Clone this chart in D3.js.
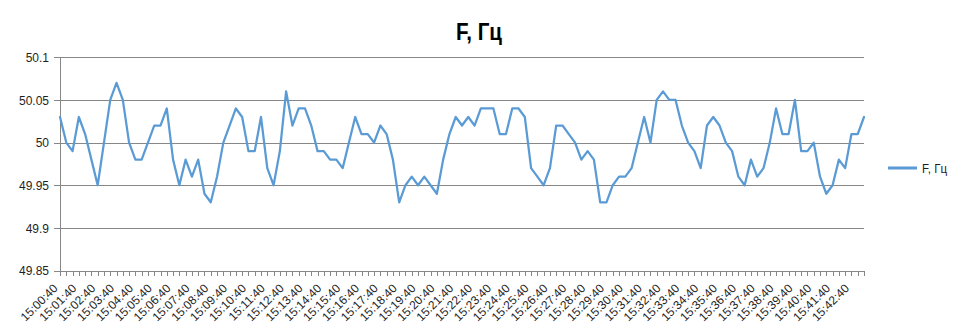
<!DOCTYPE html>
<html><head><meta charset="utf-8">
<script src="https://cdn.jsdelivr.net/npm/d3@7"></script>
<style>
html,body{margin:0;padding:0;background:#fff;}
svg{display:block;}
text{font-family:"Liberation Sans",Arial,sans-serif;}
</style></head>
<body>
<script>
const seriesName = "F, Гц";
const startTime = "15:00:40";
const stepSeconds = 20;
const values = [
50.03,50.00,49.99,50.03,50.01,49.98,49.95,50.00,50.05,50.07,
50.05,50.00,49.98,49.98,50.00,50.02,50.02,50.04,49.98,49.95,
49.98,49.96,49.98,49.94,49.93,49.96,50.00,50.02,50.04,50.03,
49.99,49.99,50.03,49.97,49.95,49.99,50.06,50.02,50.04,50.04,
50.02,49.99,49.99,49.98,49.98,49.97,50.00,50.03,50.01,50.01,
50.00,50.02,50.01,49.98,49.93,49.95,49.96,49.95,49.96,49.95,
49.94,49.98,50.01,50.03,50.02,50.03,50.02,50.04,50.04,50.04,
50.01,50.01,50.04,50.04,50.03,49.97,49.96,49.95,49.97,50.02,
50.02,50.01,50.00,49.98,49.99,49.98,49.93,49.93,49.95,49.96,
49.96,49.97,50.00,50.03,50.00,50.05,50.06,50.05,50.05,50.02,
50.00,49.99,49.97,50.02,50.03,50.02,50.00,49.99,49.96,49.95,
49.98,49.96,49.97,50.00,50.04,50.01,50.01,50.05,49.99,49.99,
50.00,49.96,49.94,49.95,49.98,49.97,50.01,50.01,50.03
];
const yTicks = [49.85, 49.9, 49.95, 50, 50.05, 50.1];
const labelEvery = 3;

// category times (one reading every 20 s)
const p = startTime.split(":").map(Number);
const t0 = p[0]*3600 + p[1]*60 + p[2];
const pad = n => String(n).padStart(2, "0");
const categories = values.map((v, i) => {
  const t = t0 + i*stepSeconds;
  return pad(Math.floor(t/3600)) + ":" + pad(Math.floor(t/60)%60) + ":" + pad(t%60);
});
const data = categories.map((c, i) => ({c, v: values[i], i}));

const W = 959, H = 336;
const L = 60, R = 864, T = 57.3, B = 270.5;

const svg = d3.select("body").append("svg").attr("width", W).attr("height", H);

const x = d3.scalePoint().domain(categories).range([L, R]);
const y = d3.scaleLinear().domain([49.85, 50.1]).range([B, T]);

const gridCol = "#878787";
const txtCol = "#1f1f1f";

// horizontal gridlines + y ticks
const gy = svg.append("g").attr("transform", `translate(${L},0)`)
  .call(d3.axisLeft(y).tickValues(yTicks).tickSize(6).tickSizeInner(6)
        .tickFormat(d => String(+d.toFixed(2))));
gy.select(".domain").remove();
gy.selectAll(".tick line").attr("x1", -6).attr("x2", R - L)
  .attr("stroke", gridCol).attr("shape-rendering", "crispEdges");
gy.selectAll(".tick text").attr("x", -11).attr("dy", "0.35em")
  .attr("font-size", 12).attr("fill", txtCol)
  .attr("font-family", "'Liberation Sans',Arial,sans-serif");

// left axis line
svg.append("line").attr("x1", L).attr("x2", L).attr("y1", T).attr("y2", B)
  .attr("stroke", gridCol).attr("shape-rendering", "crispEdges");

// bottom axis
const gx = svg.append("g").attr("transform", `translate(0,${B})`)
  .call(d3.axisBottom(x).tickSize(5).tickSizeOuter(0)
        .tickFormat((d, i) => i % labelEvery === 0 ? d : ""));
gx.select(".domain").attr("stroke", gridCol).attr("shape-rendering", "crispEdges");
gx.selectAll(".tick line").attr("stroke", gridCol).attr("shape-rendering", "crispEdges");
gx.selectAll(".tick text")
  .attr("font-size", 12).attr("fill", txtCol)
  .attr("font-family", "'Liberation Sans',Arial,sans-serif")
  .attr("text-anchor", "end")
  .attr("y", 0).attr("dy", 0)
  .attr("transform", "translate(-2,18.5) rotate(-45)");

// line
svg.append("path").datum(data)
  .attr("fill", "none").attr("stroke", "#5B9BD5").attr("stroke-width", 2.25)
  .attr("stroke-linejoin", "round").attr("stroke-linecap", "round")
  .attr("d", d3.line().x(d => x(d.c)).y(d => y(d.v)));

// title
svg.append("text").attr("x", 479).attr("y", 39.5).attr("text-anchor", "middle")
  .attr("font-size", 23).attr("font-weight", "bold").attr("fill", "#000")
  .attr("textLength", 46).attr("lengthAdjust", "spacingAndGlyphs")
  .text(seriesName);

// legend
svg.append("line").attr("x1", 888).attr("x2", 917).attr("y1", 168).attr("y2", 168)
  .attr("stroke", "#5B9BD5").attr("stroke-width", 3);
svg.append("text").attr("x", 922).attr("y", 172.5)
  .attr("font-size", 12).attr("fill", txtCol)
  .attr("textLength", 25).attr("lengthAdjust", "spacingAndGlyphs")
  .text(seriesName);
</script>
</body></html>
